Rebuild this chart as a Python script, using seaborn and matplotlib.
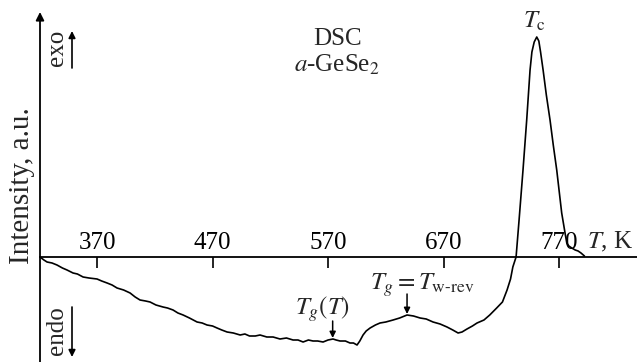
import numpy as np
import pandas as pd
import matplotlib
matplotlib.use("Agg")
import matplotlib.pyplot as plt
import seaborn as sns

# --- data (temperature in K, intensity in arbitrary units) ---
temperature = [320.6, 324, 326.7, 331, 335.3, 340, 344, 349.2, 353, 357.9,
               363, 370, 374, 378.7, 383, 387.3, 393, 398.6, 403, 407.2,
               412, 415.9, 421, 427.1, 431, 435.8, 440, 444.5, 450, 456.6,
               461, 465.2, 470, 473.9, 478, 482.6, 488, 493.9, 498, 502,
               507, 511.1, 517, 522.4, 528.4, 534, 539.7, 544, 548.4, 553,
               557, 561, 565.7, 570, 574.3, 577, 580.4, 585, 589, 592,
               595.1, 597.5, 600.3, 603, 606.4, 611, 615, 620, 626.3, 632,
               638.4, 644, 649.7, 655, 660.9, 667, 673, 678, 682.6, 686,
               690.3, 695, 699, 705, 710, 716, 721, 725, 728, 730,
               732.8, 735.4, 738.8, 742, 744.9, 746.5, 748.5, 750.7, 752.5, 754,
               756.2, 759, 762.2, 765, 768, 770.5, 772.3, 775.2, 776.7, 778.5,
               781, 784, 786.5, 789, 792]
intensity = [0, -3, -5, -6, -8, -11, -13, -16, -17, -20,
             -21, -22, -24, -26, -28, -31, -33, -36, -40, -43,
             -44, -45, -48, -50, -51, -53, -56, -58, -61, -65,
             -66, -68, -69, -71, -73, -75, -76, -78, -77, -79,
             -79, -78, -80, -80, -82, -81, -83, -83, -85, -83,
             -84, -84, -85, -83, -82, -83, -84, -84, -86, -86,
             -88, -84, -78, -74, -71, -68, -66, -65, -63, -61,
             -58, -59, -61, -62, -65, -67, -70, -73, -76, -75,
             -72, -69, -66, -63, -58, -51, -45, -33, -22, -10,
             0, 37, 87, 137, 187, 205, 215, 220, 216, 205,
             187, 162, 137, 112, 87, 62, 44, 24, 14, 11,
             9, 7, 6, 4, 1]
tick_values = [370, 470, 570, 670, 770]
tick_labels = ["370", "470", "570", "670", "770"]

df = pd.DataFrame({"T": temperature, "I": intensity})

sns.set_style("white")
plt.rcParams["font.family"] = ["Liberation Serif", "DejaVu Serif"]
plt.rcParams["mathtext.fontset"] = "stix"

W, H = 637, 362
fig = plt.figure(figsize=(W / 100, H / 100), dpi=100)
ax = fig.add_axes([40 / W, 0, 597 / W, 1])

sns.lineplot(data=df, x="T", y="I", ax=ax, color="black", lw=1.2, sort=False)

ax.set_xlim(320.6, 837.5)
ax.set_ylim(-105, 257)

for s in ["left", "right", "bottom"]:
    ax.spines[s].set_visible(False)
ax.spines["top"].set_position(("data", 0))
ax.spines["top"].set_linewidth(1.3)
ax.spines["top"].set_color("black")
ax.xaxis.set_ticks_position("top")
ax.set_xticks(tick_values)
ax.set_xticklabels(tick_labels)
ax.tick_params(axis="x", direction="in", length=8, width=1.2, labelsize=18, pad=2.5,
               colors="black")
ax.set_yticks([])
ax.set_xlabel("")
ax.set_ylabel("Intensity, a.u.", fontsize=21, va="center")
ax.yaxis.set_label_coords(-18 / 597, 1 - 186 / H)

# y axis with arrow
ax.annotate("", xy=(0, 1 - 12 / H), xytext=(0, 0), xycoords="axes fraction",
            arrowprops=dict(arrowstyle="-|>", color="black", lw=1.3,
                            mutation_scale=12, shrinkA=0, shrinkB=0))

# exo / endo
fx = lambda px: (px - 40) / 597
fy = lambda py: 1 - py / H
ax.text(fx(57), fy(48), "exo", rotation=90, ha="center", va="center", fontsize=18,
        transform=ax.transAxes)
ax.annotate("", xy=(fx(72), fy(31)), xytext=(fx(72), fy(68)), xycoords="axes fraction",
            arrowprops=dict(arrowstyle="-|>", color="black", lw=1.2, mutation_scale=10,
                            shrinkA=0, shrinkB=0))
ax.text(fx(57), fy(331), "endo", rotation=90, ha="center", va="center", fontsize=18,
        transform=ax.transAxes)
ax.annotate("", xy=(fx(72), fy(357)), xytext=(fx(72), fy(307)), xycoords="axes fraction",
            arrowprops=dict(arrowstyle="-|>", color="black", lw=1.2, mutation_scale=10,
                            shrinkA=0, shrinkB=0))

# titles
ax.text(578, 212, "DSC", ha="center", va="baseline", fontsize=18)
ax.text(578, 185, r"$a$-GeSe$_2$", ha="center", va="baseline", fontsize=18)
ax.text(749, 229, r"$T_{\mathrm{c}}$", ha="center", va="baseline", fontsize=18)
ax.text(794, 9, r"$T$, K", ha="left", va="baseline", fontsize=18)

# Tg annotations
ax.text(565, -58, r"$T_g(T)$", ha="center", va="baseline", fontsize=18)
ax.annotate("", xy=(574, -81), xytext=(574, -64),
            arrowprops=dict(arrowstyle="-|>", color="black", lw=1.1, mutation_scale=9,
                            shrinkA=0, shrinkB=0))
ax.text(606, -33, r"$T_g = T_{\mathrm{w\text{-}rev}}$", ha="left", va="baseline", fontsize=18)
ax.annotate("", xy=(638.4, -57), xytext=(638.4, -37),
            arrowprops=dict(arrowstyle="-|>", color="black", lw=1.1, mutation_scale=9,
                            shrinkA=0, shrinkB=0))

fig.savefig("out.png", dpi=100)
